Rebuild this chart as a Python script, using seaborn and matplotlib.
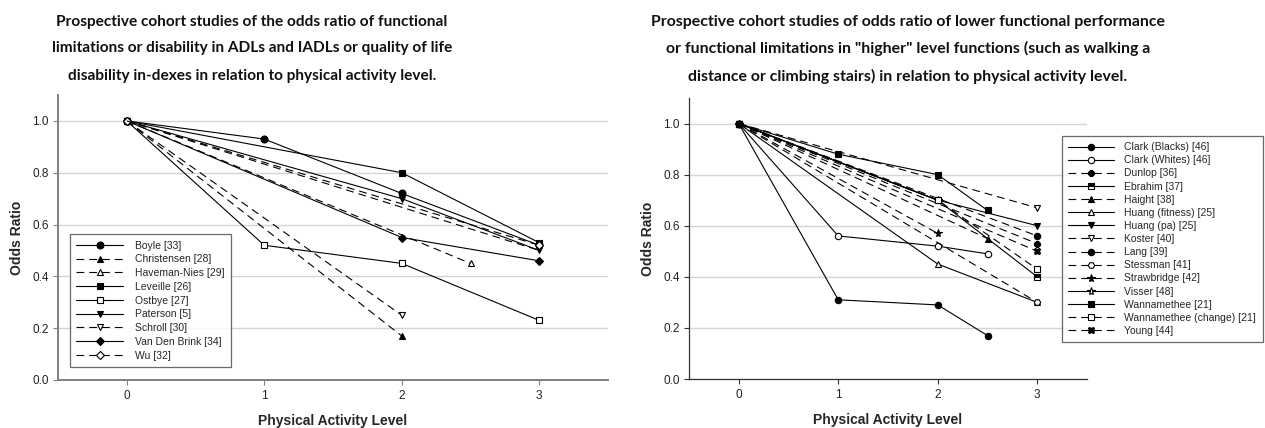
import matplotlib
matplotlib.use("Agg")
import matplotlib.pyplot as plt
import seaborn as sns

# ---- Left panel: ADL / IADL disability studies ----
boyle_x = [0, 1, 2, 3];            boyle_y = [1.0, 0.93, 0.72, 0.52]
christensen_x = [0, 2];            christensen_y = [1.0, 0.17]
haveman_x = [0, 2.5];              haveman_y = [1.0, 0.45]
leveille_x = [0, 2, 3];            leveille_y = [1.0, 0.80, 0.53]
ostbye_x = [0, 1, 2, 3];           ostbye_y = [1.0, 0.52, 0.45, 0.23]
paterson_x = [0, 2, 3];            paterson_y = [1.0, 0.70, 0.50]
schroll_x = [0, 2];                schroll_y = [1.0, 0.25]
vandenbrink_x = [0, 2, 3];         vandenbrink_y = [1.0, 0.55, 0.46]
wu_x = [0, 3];                     wu_y = [1.0, 0.52]
wu2_x = [0, 3];                    wu2_y = [1.0, 0.50]

# ---- Right panel: higher-level functional performance studies ----
clark_b_x = [0, 1, 2, 2.5];        clark_b_y = [1.0, 0.31, 0.29, 0.17]
clark_w_x = [0, 1, 2, 2.5];        clark_w_y = [1.0, 0.56, 0.52, 0.49]
dunlop_x = [0, 3];                 dunlop_y = [1.0, 0.53]
ebrahim_x = [0, 2, 3];             ebrahim_y = [1.0, 0.70, 0.40]
haight_x = [0, 2.5];               haight_y = [1.0, 0.55]
huang_fit_x = [0, 2, 3];           huang_fit_y = [1.0, 0.45, 0.30]
huang_pa_x = [0, 2, 3];            huang_pa_y = [1.0, 0.70, 0.60]
koster_x = [0, 3];                 koster_y = [1.0, 0.67]
lang_x = [0, 3];                   lang_y = [1.0, 0.56]
stessman_x = [0, 3];               stessman_y = [1.0, 0.30]
strawbridge_x = [0, 2];            strawbridge_y = [1.0, 0.57]
visser_x = [0, 2];                 visser_y = [1.0, 0.70]
wanna_x = [0, 1, 2, 2.5];          wanna_y = [1.0, 0.88, 0.80, 0.66]
wanna_ch_x = [0, 2, 3];            wanna_ch_y = [1.0, 0.70, 0.43]
young_x = [0, 3];                  young_y = [1.0, 0.50]

x_ticks = [0, 1, 2, 3]
y_ticks = [0.0, 0.2, 0.4, 0.6, 0.8, 1.0]

title_left = ["Prospective cohort studies of the odds ratio of functional",
              "limitations or disability in ADLs and IADLs or quality of life",
              "disability in-dexes in relation to physical activity level."]
title_right = ["Prospective cohort studies of odds ratio of lower functional performance",
               "or functional limitations in \"higher\" level functions (such as walking a",
               "distance or climbing stairs) in relation to physical activity level."]

SOLID = "-"
DASH = (0, (7, 4.5))
F, O = "black", "white"

left_series = [
    ("Boyle [33]", boyle_x, boyle_y, SOLID, "o", F),
    ("Christensen [28]", christensen_x, christensen_y, DASH, "^", F),
    ("Haveman-Nies [29]", haveman_x, haveman_y, DASH, "^", O),
    ("Leveille [26]", leveille_x, leveille_y, SOLID, "s", F),
    ("Ostbye [27]", ostbye_x, ostbye_y, SOLID, "s", O),
    ("Paterson [5]", paterson_x, paterson_y, SOLID, "v", F),
    ("Schroll [30]", schroll_x, schroll_y, DASH, "v", O),
    ("Van Den Brink [34]", vandenbrink_x, vandenbrink_y, SOLID, "D", F),
    ("Wu [32]", wu_x, wu_y, DASH, "D", O),
    ("_wu_second", wu2_x, wu2_y, DASH, None, O),
]

right_series = [
    ("Clark (Blacks) [46]", clark_b_x, clark_b_y, SOLID, "o", F),
    ("Clark (Whites) [46]", clark_w_x, clark_w_y, SOLID, "o", O),
    ("Dunlop [36]", dunlop_x, dunlop_y, DASH, "8", F),
    ("Ebrahim [37]", ebrahim_x, ebrahim_y, SOLID, "s", "half"),
    ("Haight [38]", haight_x, haight_y, DASH, "^", F),
    ("Huang (fitness) [25]", huang_fit_x, huang_fit_y, SOLID, "^", O),
    ("Huang (pa) [25]", huang_pa_x, huang_pa_y, SOLID, "v", F),
    ("Koster [40]", koster_x, koster_y, DASH, "v", O),
    ("Lang [39]", lang_x, lang_y, DASH, "o", F),
    ("Stessman [41]", stessman_x, stessman_y, DASH, "H", O),
    ("Strawbridge [42]", strawbridge_x, strawbridge_y, DASH, "*", F),
    ("Visser [48]", visser_x, visser_y, SOLID, "*", O),
    ("Wannamethee [21]", wanna_x, wanna_y, SOLID, "s", F),
    ("Wannamethee (change) [21]", wanna_ch_x, wanna_ch_y, DASH, "s", O),
    ("Young [44]", young_x, young_y, DASH, "X", F),
]

sns.set_style("white")
plt.rcParams["font.family"] = ["Liberation Sans", "DejaVu Sans"]

fig = plt.figure(figsize=(12.65, 4.28), dpi=100)
ax_l = fig.add_axes([58 / 1265, 48 / 428, 550 / 1265, 285 / 428])
ax_r = fig.add_axes([689 / 1265, 49 / 428, 398 / 1265, 281 / 428])


def draw(ax, series, ms):
    for name, xs, ys, ls, mk, fill in series:
        kw = dict(color="black", lw=0.8, linestyle=ls, label=name,
                  sort=False, estimator=None)
        if mk is not None:
            size = ms
            if mk == "*":
                size = ms * 1.25
            if mk == "D":
                size = ms * 0.85
            kw.update(marker=mk, markersize=size, markeredgecolor="black",
                      markeredgewidth=0.8)
            if fill == "half":
                kw.update(fillstyle="top", markerfacecolor="black",
                          markerfacecoloralt="white")
            else:
                kw.update(markerfacecolor=fill)
        sns.lineplot(x=xs, y=ys, ax=ax, **kw)


def style_axes(ax, spine_color, spine_w, ylabelpad):
    ax.set_xlim(-0.5, 3.5)
    ax.set_ylim(0, 1.1)
    ax.set_xticks(x_ticks)
    ax.set_yticks(y_ticks)
    ax.set_xticklabels([str(t) for t in x_ticks])
    ax.set_yticklabels([f"{t:.1f}" for t in y_ticks])
    ax.yaxis.grid(True, color="#d4d4d4", lw=1.0)
    ax.xaxis.grid(False)
    ax.set_axisbelow(True)
    for s in ("top", "right"):
        ax.spines[s].set_visible(False)
    for s in ("left", "bottom"):
        ax.spines[s].set_color(spine_color)
        ax.spines[s].set_linewidth(spine_w)
    ax.tick_params(axis="both", direction="out", length=3.5, width=0.8,
                   color=spine_color, labelsize=8.5, labelcolor="#222222",
                   pad=3, left=True, bottom=True)
    ax.tick_params(axis="x", pad=4)
    ax.set_xlabel("Physical Activity Level", fontsize=10, fontweight="bold",
                  labelpad=8)
    ax.set_ylabel("Odds Ratio", fontsize=10, fontweight="bold",
                  labelpad=ylabelpad)


draw(ax_l, left_series, 5)
draw(ax_r, right_series, 4.6)
style_axes(ax_l, "#7f7f7f", 1.4, 6)
style_axes(ax_r, "#333333", 0.9, 6)

leg_kw = dict(fontsize=7.5, frameon=True, fancybox=False,
              borderpad=0.6, borderaxespad=0)
leg_l = ax_l.legend(loc="lower left", bbox_to_anchor=(0.022, 0.046),
                    labelspacing=0.36, handlelength=4.5, handletextpad=1.1,
                    **leg_kw)
leg_r = ax_r.legend(loc="upper left", bbox_to_anchor=(0.937, 0.865),
                    labelspacing=0.3, handlelength=4.4, handletextpad=1.0,
                    **leg_kw)
for leg in (leg_l, leg_r):
    leg.get_frame().set_edgecolor("#444444")
    leg.get_frame().set_linewidth(0.9)

title_font = dict(family=["Lato", "DejaVu Sans"], fontweight="bold",
                  ha="center", va="center", color="#111111")
for i, y in enumerate([406, 380, 352]):
    fig.text(252 / 1265, y / 428, title_left[i], fontsize=11.1, **title_font)
    fig.text(908 / 1265, y / 428, title_right[i], fontsize=11.4, **title_font)

fig.savefig("out.png", dpi=100)
